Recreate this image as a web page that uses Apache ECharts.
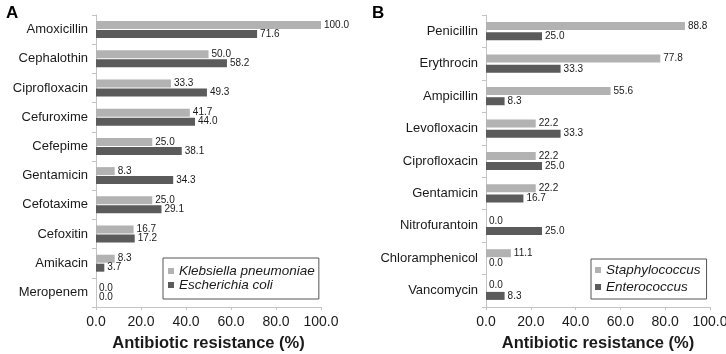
<!DOCTYPE html>
<html>
<head>
<meta charset="utf-8">
<script src="https://cdn.jsdelivr.net/npm/echarts@6/dist/echarts.min.js"></script>
<style>
  html, body { margin: 0; padding: 0; background: #fff; }
  #chart { width: 726px; height: 354px; }
</style>
</head>
<body>
<div id="chart"></div>
<script>
  // panel A
  const drugsA = ['Amoxicillin', 'Cephalothin', 'Ciprofloxacin', 'Cefuroxime', 'Cefepime',
    'Gentamicin', 'Cefotaxime', 'Cefoxitin', 'Amikacin', 'Meropenem'];
  const klebsiella = [100.0, 50.0, 33.3, 41.7, 25.0, 8.3, 25.0, 16.7, 8.3, 0.0];
  const ecoli = [71.6, 58.2, 49.3, 44.0, 38.1, 34.3, 29.1, 17.2, 3.7, 0.0];

  // panel B
  const drugsB = ['Penicillin', 'Erythrocin', 'Ampicillin', 'Levofloxacin', 'Ciprofloxacin',
    'Gentamicin', 'Nitrofurantoin', 'Chloramphenicol', 'Vancomycin'];
  const staph = [88.8, 77.8, 55.6, 22.2, 22.2, 22.2, 0.0, 11.1, 0.0];
  const entero = [25.0, 33.3, 8.3, 33.3, 25.0, 16.7, 25.0, 0.0, 8.3];

  const xTicks = [0, 20, 40, 60, 80, 100];

  const font = 'Liberation Sans, Arial, sans-serif';
  const lightColor = '#b2b2b2';
  const darkColor = '#5b5b5b';
  const axisColor = '#c4c4c4';
  const textColor = '#1a1a1a';

  const chart = echarts.init(document.getElementById('chart'));

  function xAxisCfg(idx) {
    return {
      gridIndex: idx,
      type: 'value',
      min: xTicks[0],
      max: xTicks[xTicks.length - 1],
      interval: 20,
      name: 'Antibiotic resistance (%)',
      nameLocation: 'middle',
      nameGap: 28,
      nameTextStyle: { fontFamily: font, fontSize: 16.5, fontWeight: 'bold', color: textColor },
      axisLine: { show: true, lineStyle: { color: axisColor, width: 1 } },
      axisTick: { show: true, length: 3, lineStyle: { color: axisColor } },
      axisLabel: {
        fontFamily: font, fontSize: 14, color: textColor, margin: 8,
        formatter: v => v.toFixed(1)
      },
      splitLine: { show: false }
    };
  }

  function yAxisCfg(idx, cats) {
    return {
      gridIndex: idx,
      type: 'category',
      inverse: true,
      data: cats,
      axisLine: { show: true, lineStyle: { color: axisColor, width: 1 } },
      axisTick: { show: true, length: 4, lineStyle: { color: axisColor } },
      axisLabel: { fontFamily: font, fontSize: 13, color: textColor, margin: 8 }
    };
  }

  function barSeries(name, data, idx, color, width, gap) {
    return {
      name: name,
      type: 'bar',
      xAxisIndex: idx,
      yAxisIndex: idx,
      data: data,
      barWidth: width,
      barGap: gap,
      itemStyle: { color: color },
      label: {
        show: true,
        position: 'right',
        distance: 3,
        fontFamily: font,
        fontSize: 10,
        color: textColor,
        formatter: p => p.value.toFixed(1)
      }
    };
  }

  const legendText = { fontFamily: font, fontSize: 13.5, fontStyle: 'italic', color: textColor };

  const option = {
    backgroundColor: '#fff',
    animation: false,
    title: [
      { text: 'A', left: 1, top: 0, textStyle: { fontFamily: font, fontSize: 17, fontWeight: 'bold', color: '#000' } },
      { text: 'B', left: 367, top: 0, textStyle: { fontFamily: font, fontSize: 17, fontWeight: 'bold', color: '#000' } }
    ],
    grid: [
      { left: 96, right: 405, top: 15, bottom: 47, outerBoundsMode: 'none' },
      { left: 486, right: 16, top: 15, bottom: 47, outerBoundsMode: 'none' }
    ],
    legend: [
      {
        data: ['Klebsiella pneumoniae', 'Escherichia coli'],
        orient: 'vertical',
        left: 163, top: 258,
        icon: 'rect', itemWidth: 6, itemHeight: 6, itemGap: 0, itemTextGap: 6,
        padding: [6, 4, 7, 5],
        borderColor: '#555', borderWidth: 1,
        textStyle: Object.assign({ lineHeight: 12 }, legendText)
      },
      {
        data: ['Staphylococcus', 'Enterococcus'],
        orient: 'vertical',
        left: 591, top: 259,
        icon: 'rect', itemWidth: 6, itemHeight: 6, itemGap: 3, itemTextGap: 4,
        padding: [4, 6, 5, 4],
        borderColor: '#555', borderWidth: 1,
        textStyle: Object.assign({ lineHeight: 13 }, legendText)
      }
    ],
    xAxis: [xAxisCfg(0), xAxisCfg(1)],
    yAxis: [yAxisCfg(0, drugsA), yAxisCfg(1, drugsB)],
    series: [
      barSeries('Klebsiella pneumoniae', klebsiella, 0, lightColor, 8, '12%'),
      barSeries('Escherichia coli', ecoli, 0, darkColor, 8, '12%'),
      barSeries('Staphylococcus', staph, 1, lightColor, 8, '28%'),
      barSeries('Enterococcus', entero, 1, darkColor, 8, '28%')
    ]
  };

  chart.setOption(option);
</script>
</body>
</html>
